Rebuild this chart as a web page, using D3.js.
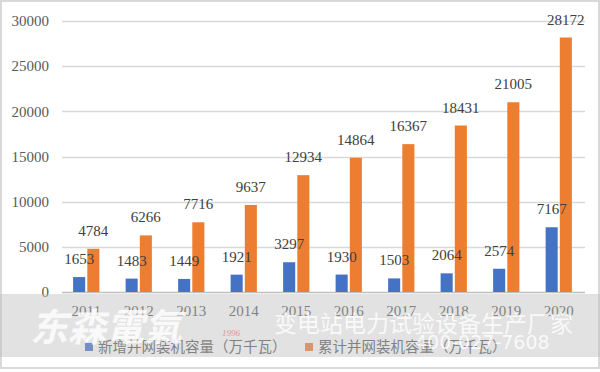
<!DOCTYPE html>
<html>
<head>
<meta charset="utf-8">
<script src="https://cdn.jsdelivr.net/npm/d3@7"></script>
<style>
  body { margin: 0; background: #fff; }
  svg { display: block; }
</style>
</head>
<body>
<div id="chart"></div>
<script>
var years = ['2011', '2012', '2013', '2014', '2015', '2016', '2017', '2018', '2019', '2020'];
var newCap = [1653, 1483, 1449, 1921, 3297, 1930, 1503, 2064, 2574, 7167];
var totalCap = [4784, 6266, 7716, 9637, 12934, 14864, 16367, 18431, 21005, 28172];
var yTicks = [0, 5000, 10000, 15000, 20000, 25000, 30000];
var seriesNames = ['新增并网装机容量（万千瓦）', '累计并网装机容量（万千瓦）'];
var seriesColors = ['#4472c4', '#ed7d31'];

var width = 600, height = 372;
var numFont = '"Liberation Serif", "DejaVu Serif", serif';
var cjkFont = '"Noto Sans CJK SC", sans-serif';

var svg = d3.select('#chart').append('svg')
  .attr('width', width)
  .attr('height', height);

// frame
svg.append('rect')
  .attr('x', 1).attr('y', 1)
  .attr('width', width - 2).attr('height', 367)
  .attr('fill', '#fff')
  .attr('stroke', '#d9d9d9')
  .attr('stroke-width', 2);

var x0 = d3.scaleBand()
  .domain(years)
  .range([60, 585])
  .paddingInner(0.5)
  .paddingOuter(0.25);

var x1 = d3.scaleBand()
  .domain([0, 1])
  .range([0, x0.bandwidth()])
  .paddingInner(0.15);

var y = d3.scaleLinear()
  .domain([0, 30000])
  .range([292, 21]);

// gridlines
svg.append('g')
  .selectAll('line')
  .data(yTicks)
  .enter().append('line')
  .attr('x1', 62).attr('x2', 585)
  .attr('y1', function(d){ return Math.round(y(d)) + 0.5; })
  .attr('y2', function(d){ return Math.round(y(d)) + 0.5; })
  .attr('stroke', function(d){ return d === 0 ? '#bfbfbf' : '#d9d9d9'; })
  .attr('stroke-width', 1.5);

// y tick labels
svg.append('g')
  .selectAll('text')
  .data(yTicks)
  .enter().append('text')
  .attr('x', 49)
  .attr('y', function(d){ return y(d); })
  .attr('dy', '0.35em')
  .attr('text-anchor', 'end')
  .attr('font-family', numFont)
  .attr('font-size', 15)
  .attr('fill', '#595959')
  .text(function(d){ return d; });

var rows = years.map(function(yr, i){
  return {year: yr, vals: [newCap[i], totalCap[i]]};
});

var groups = svg.append('g')
  .selectAll('g')
  .data(rows)
  .enter().append('g')
  .attr('transform', function(d){ return 'translate(' + x0(d.year) + ',0)'; });

groups.selectAll('rect')
  .data(function(d){ return d.vals; })
  .enter().append('rect')
  .attr('x', function(d, i){ return x1(i); })
  .attr('width', x1.bandwidth())
  .attr('y', function(d){ return y(d); })
  .attr('height', function(d){ return y(0) - y(d); })
  .attr('fill', function(d, i){ return seriesColors[i]; });

groups.selectAll('text')
  .data(function(d){ return d.vals; })
  .enter().append('text')
  .attr('x', function(d, i){ return x1(i) + x1.bandwidth() / 2; })
  .attr('y', function(d){ return y(d) - 13; })
  .attr('text-anchor', 'middle')
  .attr('font-family', numFont)
  .attr('font-size', 15)
  .attr('fill', '#404040')
  .text(function(d){ return d; });

// x labels
svg.append('g')
  .selectAll('text')
  .data(years)
  .enter().append('text')
  .attr('x', function(d){ return x0(d) + x0.bandwidth() / 2; })
  .attr('y', 311)
  .attr('dy', '0.35em')
  .attr('text-anchor', 'middle')
  .attr('font-family', numFont)
  .attr('font-size', 15)
  .attr('fill', '#595959')
  .text(function(d){ return d; });

// legend
var legendX = [85, 305];
var legend = svg.append('g')
  .selectAll('g')
  .data(seriesNames)
  .enter().append('g')
  .attr('transform', function(d, i){ return 'translate(' + legendX[i] + ',347)'; });

legend.append('rect')
  .attr('x', 0).attr('y', -4)
  .attr('width', 8).attr('height', 8)
  .attr('fill', function(d, i){ return seriesColors[i]; });

legend.append('text')
  .attr('x', 13)
  .attr('dy', '0.35em')
  .attr('font-family', cjkFont)
  .attr('font-size', 14.5)
  .attr('fill', '#595959')
  .text(function(d){ return d; });

// watermark band
svg.append('rect')
  .attr('x', 0).attr('y', 294)
  .attr('width', width).attr('height', 63)
  .attr('fill', 'rgba(185,185,185,0.42)');

var wm = svg.append('g').attr('fill', '#fff').attr('opacity', 0.8);
wm.append('text')
  .attr('x', 30).attr('y', 341)
  .attr('font-family', cjkFont)
  .attr('font-size', 38)
  .attr('font-style', 'italic')
  .attr('font-weight', 'bold')
  .text('东森電氣');
wm.append('text')
  .attr('x', 274).attr('y', 332)
  .attr('font-family', cjkFont)
  .attr('font-size', 23)
  .text('变电站电力试验设备生产厂家');
wm.append('text')
  .attr('x', 415).attr('y', 349)
  .attr('font-family', '"DejaVu Sans", sans-serif')
  .attr('font-size', 19)
  .text('400-027-7608');
svg.append('text')
  .attr('x', 222).attr('y', 336)
  .attr('font-family', numFont)
  .attr('font-size', 9)
  .attr('font-style', 'italic')
  .attr('fill', 'rgba(210,90,90,0.6)')
  .text('1996');
</script>
</body>
</html>
